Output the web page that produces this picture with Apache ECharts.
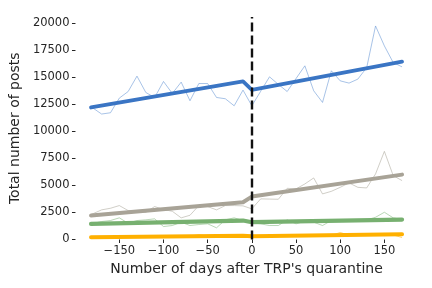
<!DOCTYPE html>
<html>
<head>
<meta charset="utf-8">
<script src="https://cdn.jsdelivr.net/npm/echarts@6/dist/echarts.min.js"></script>
<style>html,body{margin:0;padding:0;background:#fff}#c{width:432px;height:288px}</style>
</head>
<body>
<div id="c"></div>
<script>
// Days relative to quarantine
const days = [-182,-170,-160,-150,-140,-130,-120,-110,-100,-90,-80,-70,-60,-50,-40,-30,-20,-10,0,10,20,30,40,50,60,70,80,90,100,110,120,130,140,150,160,170];
// Raw series
const blueRaw  = [12290,11615,11735,13090,13700,15125,13610,13150,14630,13520,14570,12845,14440,14440,13150,13030,12380,13830,12380,13720,15060,14360,13700,14900,16080,13770,12690,15620,14690,14480,14850,15920,19770,17925,16380,15985];
const greyRaw  = [2310,2744,2892,3142,2680,2587,2522,3050,2772,2615,2005,2245,3142,3050,2744,3142,3142,3114,2837,3761,3742,3724,4740,4682,5144,5699,4220,4460,4830,5237,4830,4774,6068,8159,5914,5452];
const greenRaw = [1450,1663,1756,2005,1506,1756,1820,1913,1200,1294,1600,1294,1386,1450,1081,1820,2005,1756,1550,1450,1294,1294,1820,1450,1690,1600,1294,1756,1756,1756,1848,1820,2060,2522,2005,1848];
const orangeRaw= [200,230,250,220,260,240,270,250,280,260,290,300,450,300,310,320,330,340,300,310,300,330,320,360,350,370,360,380,650,400,390,420,530,560,420,180];
// Fitted (segmented) trends: values at [-182, -10, 0, 170]
const fitDays   = [-182,-10,0,170];
const blueFit   = [12225,14630,13860,16475];
const greyFit   = [2218,3446,3973,6006];
const greenFit  = [1450,1755,1600,1848];
const orangeFit = [212,345,305,490];
// Axis ticks
const xTicks = [-150,-100,-50,0,50,100,150];
const yTicks = [0,2500,5000,7500,10000,12500,15000,17500,20000];

const pair = (xs, ys) => xs.map((x,i)=>[x, ys[i]]);
const font = 'DejaVu Sans';
const raw = (d, color) => ({type:'line', data: pair(days, d), symbol:'none', silent:true,
  lineStyle:{color, width:0.9, opacity:0.6}, z:2});
const fit = (d, color, w) => ({type:'line', data: pair(fitDays, d), symbol:'none', silent:true,
  lineStyle:{color, width:w, cap:'round', join:'round'}, z:3});

const chart = echarts.init(document.getElementById('c'), null, {renderer:'canvas'});
chart.setOption({
  animation:false,
  backgroundColor:'#ffffff',
  grid:{left:72.7, right:14.4, top:17, bottom:48.5},
  xAxis:{type:'value', min:-199.6, max:187.6,
    axisLine:{show:false, onZero:false}, splitLine:{show:false},
    axisTick:{show:true, length:3.5, lineStyle:{color:'#262626', width:1}, customValues:xTicks},
    axisLabel:{color:'#262626', fontFamily:font, fontSize:11.5, margin:6, customValues:xTicks,
      formatter:v=> v<0 ? '\u2212'+Math.abs(v) : String(v)},
    name:"Number of days after TRP's quarantine", nameLocation:'middle', nameGap:30,
    nameTextStyle:{color:'#262626', fontFamily:font, fontSize:14, verticalAlign:'middle', padding:0}},
  yAxis:{type:'value', min:0, max:20600,
    axisLine:{show:false, onZero:false}, splitLine:{show:false},
    axisTick:{show:true, length:3.5, lineStyle:{color:'#262626', width:1}, customValues:yTicks},
    axisLabel:{color:'#262626', fontFamily:font, fontSize:11.5, margin:6, customValues:yTicks,
      formatter:v=>String(v)},
    name:'Total number of posts', nameLocation:'middle', nameGap:56,
    nameTextStyle:{color:'#262626', fontFamily:font, fontSize:14, verticalAlign:'middle', padding:0}},
  series:[
    raw(blueRaw,'#5d8fd2'),
    raw(greyRaw,'#a8a397'),
    raw(greenRaw,'#7db577'),
    raw(orangeRaw,'#ffb000'),
    fit(blueFit,'#3a75c4',3.8),
    fit(greyFit,'#a8a397',4),
    fit(greenFit,'#77b070',4.2),
    fit(orangeFit,'#ffb000',4),
    {type:'line', data:[], z:10, silent:true,
      markLine:{symbol:'none', silent:true, animation:false, label:{show:false},
        lineStyle:{color:'#111111', width:2.4, type:[9,4]},
        data:[{xAxis:0}]}}
  ]
});
</script>
</body>
</html>
